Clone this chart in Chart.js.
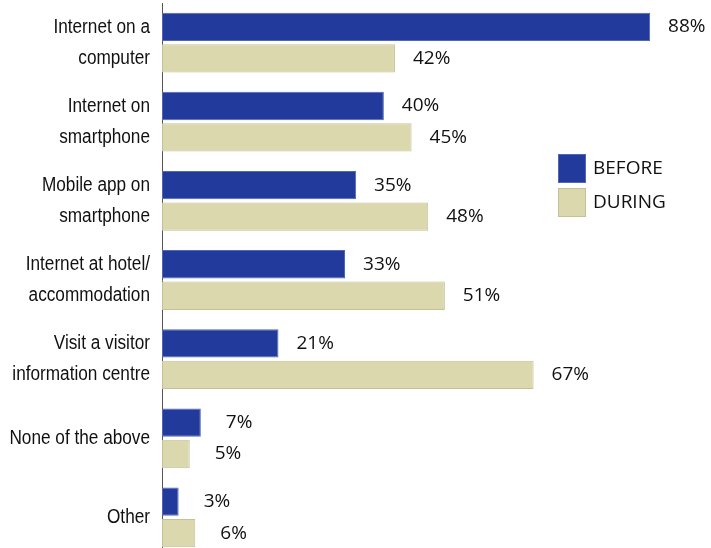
<!DOCTYPE html>
<html>
<head>
<meta charset="utf-8">
<script src="https://cdn.jsdelivr.net/npm/chart.js@4"></script>
<style>
  html, body { margin: 0; padding: 0; background: #fff; overflow: hidden; }
  #wrap { width: 711px; height: 560px; position: relative; }
</style>
</head>
<body>
<div id="wrap"><canvas id="chart"></canvas></div>
<script>
const categories = [
  ['Internet on a', 'computer'],
  ['Internet on', 'smartphone'],
  ['Mobile app on', 'smartphone'],
  ['Internet at hotel/', 'accommodation'],
  ['Visit a visitor', 'information centre'],
  'None of the above',
  'Other'
];
const beforeValues = [88, 40, 35, 33, 21, 7, 3];
const duringValues = [42, 45, 48, 51, 67, 5, 6];

const labelFont = '"Liberation Sans", Arial, sans-serif';
const valueFont = '"Open Sans", "Noto Sans", sans-serif';

// category names, drawn narrow like the condensed face in the original
const categoryLabels = {
  id: 'categoryLabels',
  afterDraw(chart) {
    const ctx = chart.ctx;
    const yScale = chart.scales.y;
    ctx.save();
    ctx.font = '20px ' + labelFont;
    ctx.fillStyle = '#111';
    ctx.textAlign = 'right';
    ctx.textBaseline = 'middle';
    chart.data.labels.forEach((lab, i) => {
      const lines = Array.isArray(lab) ? lab : [lab];
      const cy = yScale.getPixelForTick(i);
      lines.forEach((line, k) => {
        const y = cy + (k - (lines.length - 1) / 2) * 31;
        ctx.save();
        ctx.translate(150, y);
        ctx.scale(0.86, 1);
        ctx.fillText(line, 0, 0);
        ctx.restore();
      });
    });
    ctx.restore();
  }
};

// percent labels at the end of each bar
const valueLabels = {
  id: 'valueLabels',
  afterDatasetsDraw(chart) {
    const ctx = chart.ctx;
    ctx.save();
    ctx.font = '19px ' + valueFont;
    ctx.fillStyle = '#111';
    ctx.textBaseline = 'middle';
    ctx.textAlign = 'left';
    chart.data.datasets.forEach((ds, i) => {
      chart.getDatasetMeta(i).data.forEach((bar, j) => {
        const v = ds.data[j];
        ctx.fillText(v + '%', bar.x + (v < 10 ? 25 : 18), bar.y);
      });
    });
    ctx.restore();
  }
};

// legend boxes on the right side
const sideLegend = {
  id: 'sideLegend',
  afterDraw(chart) {
    const ctx = chart.ctx;
    ctx.save();
    ctx.font = '19px ' + valueFont;
    ctx.textBaseline = 'middle';
    chart.data.datasets.forEach((ds, i) => {
      const y = 154 + i * 34;
      ctx.fillStyle = ds.backgroundColor;
      ctx.fillRect(558, y, 28, 29);
      ctx.strokeStyle = ds.borderColor;
      ctx.lineWidth = 1;
      ctx.strokeRect(558.5, y + 0.5, 27, 28);
      ctx.fillStyle = '#111';
      ctx.fillText(ds.label, 593, y + 15);
    });
    ctx.restore();
  }
};

new Chart(document.getElementById('chart'), {
  type: 'bar',
  data: {
    labels: categories,
    datasets: [
      {
        label: 'BEFORE',
        data: beforeValues,
        backgroundColor: '#213a9b',
        borderColor: '#5266b2',
        borderWidth: 1,
        borderSkipped: false,
        categoryPercentage: 0.795,
        barPercentage: 0.9,
      },
      {
        label: 'DURING',
        data: duringValues,
        backgroundColor: '#dbd8ad',
        borderColor: '#c4c199',
        borderWidth: 1,
        borderSkipped: false,
        categoryPercentage: 0.795,
        barPercentage: 0.9,
      },
    ],
  },
  options: {
    indexAxis: 'y',
    responsive: true,
    maintainAspectRatio: false,
    animation: false,
    layout: { padding: { top: 3, right: 11, bottom: 3, left: 0 } },
    plugins: {
      legend: { display: false },
      tooltip: { enabled: false },
    },
    scales: {
      x: {
        display: false,
        min: 0,
        max: 97,
      },
      y: {
        afterFit: (scale) => {
          scale.width = 162;
          scale.paddingTop = 0;
          scale.paddingBottom = 0;
        },
        grid: { display: false },
        border: { display: true, color: '#555', width: 1 },
        ticks: { display: false },
      },
    },
  },
  plugins: [valueLabels, sideLegend, categoryLabels],
});
</script>
</body>
</html>
